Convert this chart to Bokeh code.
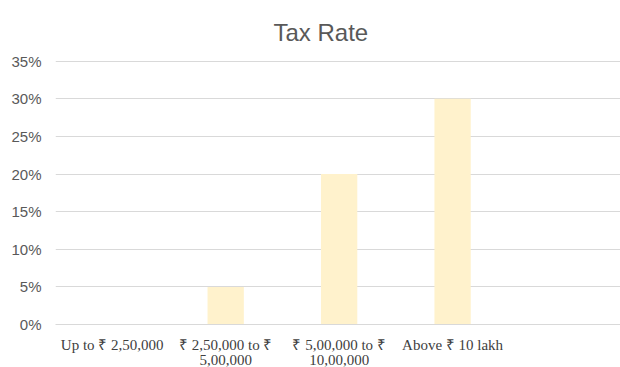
from bokeh.plotting import figure
from bokeh.models import Range1d, FixedTicker, NumeralTickFormatter, ColumnDataSource
from bokeh.embed import file_html
from bokeh.resources import INLINE

categories = ["Up to ₹ 2,50,000", "₹ 2,50,000 to ₹ 5,00,000",
              "₹ 5,00,000 to ₹ 10,00,000", "Above ₹ 10 lakh"]
tick_labels = ["Up to ₹ 2,50,000", "₹ 2,50,000 to ₹\n5,00,000",
               "₹ 5,00,000 to ₹\n10,00,000", "Above ₹ 10 lakh"]
tax_rate = [0.0, 0.05, 0.20, 0.30]
y_ticks = [0.0, 0.05, 0.10, 0.15, 0.20, 0.25, 0.30, 0.35]

xs = [i + 0.5 for i in range(len(categories))]
source = ColumnDataSource(dict(x=xs, top=tax_rate, cat=categories))

p = figure(frame_width=565, frame_height=264, output_backend="svg", toolbar_location=None,
           x_range=Range1d(0, 4.98), y_range=Range1d(0, 0.351),
           title="Tax Rate", min_border_left=55, min_border_right=0,
           min_border_top=60, min_border_bottom=0)
p.outline_line_color = None
p.background_fill_color = "white"
p.border_fill_color = "white"

p.vbar(x="x", top="top", width=0.32, source=source,
       fill_color="#FFF2CC", line_color=None)

p.title.align = "left"
p.title.offset = 218
p.title.text_font = "Liberation Sans"
p.title.text_font_size = "24px"
p.title.text_font_style = "normal"
p.title.text_color = "#595959"
p.title.vertical_align = "top"
p.title.standoff = 26

p.xaxis.ticker = FixedTicker(ticks=xs)
p.xaxis.major_label_overrides = {x: lab for x, lab in zip(xs, tick_labels)}
p.xaxis.major_tick_line_color = None
p.xaxis.minor_tick_line_color = None
p.xaxis.major_tick_out = 0
p.xaxis.axis_line_color = "#d9d9d9"
p.xaxis.major_label_text_font = "Liberation Serif"
p.xaxis.major_label_text_font_size = "15px"
p.xaxis.major_label_text_color = "#404040"
p.xaxis.major_label_text_line_height = 0.95
p.xaxis.major_label_standoff = 12
p.xgrid.grid_line_color = None

p.yaxis.ticker = FixedTicker(ticks=y_ticks)
p.yaxis.formatter = NumeralTickFormatter(format="0%")
p.yaxis.axis_line_color = None
p.yaxis.major_tick_line_color = None
p.yaxis.minor_tick_line_color = None
p.yaxis.major_tick_out = 0
p.yaxis.major_label_text_font = "Liberation Sans"
p.yaxis.major_label_text_font_size = "15px"
p.yaxis.major_label_text_color = "#595959"
p.yaxis.major_label_standoff = 14
p.ygrid.grid_line_color = "#d9d9d9"
p.ygrid.ticker = FixedTicker(ticks=y_ticks)

open("out.html", "w").write(file_html(p, INLINE))
